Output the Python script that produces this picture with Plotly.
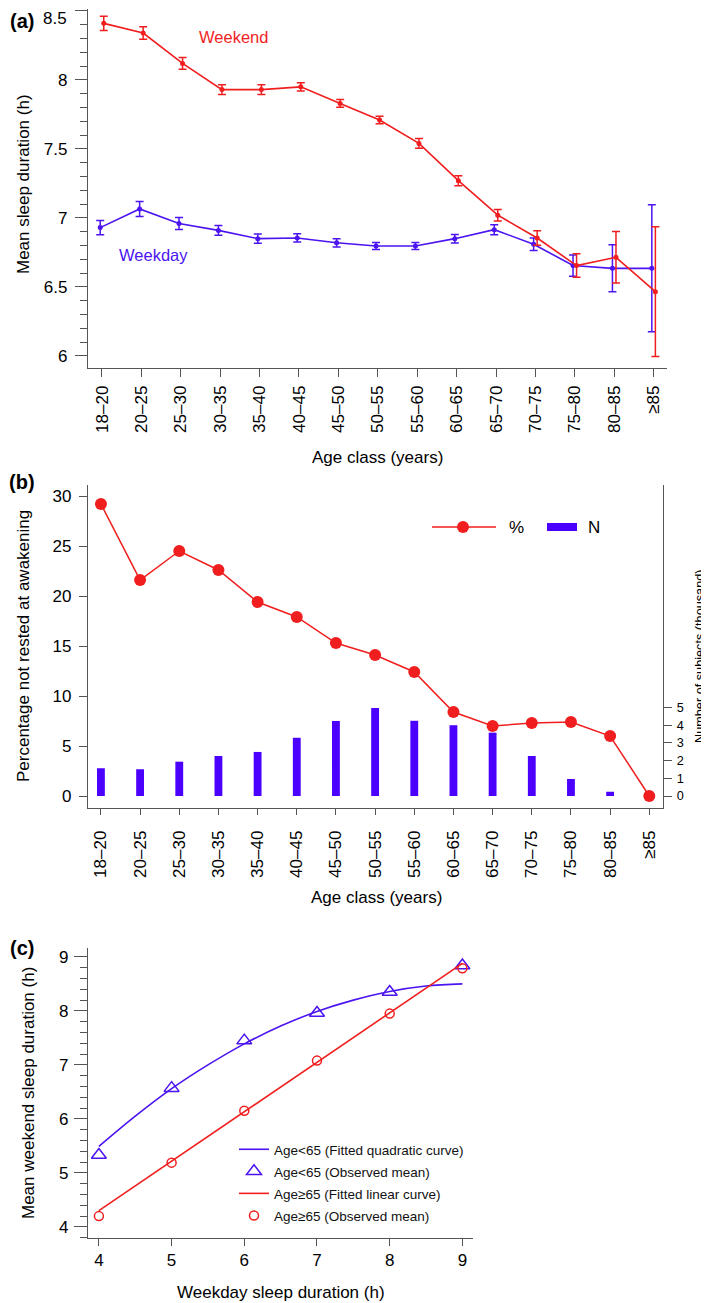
import plotly.graph_objects as go

# ── Data ────────────────────────────────────────────────────────────────────
AGE = ["18–20", "20–25", "25–30", "30–35", "35–40", "40–45", "45–50", "50–55",
       "55–60", "60–65", "65–70", "70–75", "75–80", "80–85", "≥85"]

weekend     = [8.41, 8.34, 8.12, 7.93, 7.93, 7.95, 7.83, 7.71, 7.54, 7.27, 7.02, 6.855, 6.655, 6.715, 6.466]
weekend_err = [0.052, 0.046, 0.042, 0.036, 0.036, 0.03, 0.028, 0.027, 0.035, 0.036, 0.042, 0.053, 0.085, 0.186, 0.47]
weekday     = [6.93, 7.065, 6.96, 6.91, 6.85, 6.855, 6.82, 6.797, 6.797, 6.85, 6.915, 6.81, 6.655, 6.635, 6.635]
weekday_err = [0.052, 0.054, 0.043, 0.036, 0.034, 0.03, 0.03, 0.026, 0.026, 0.031, 0.036, 0.045, 0.077, 0.17, 0.46]

pct_not_rested = [29.2, 21.6, 24.5, 22.6, 19.4, 17.9, 15.3, 14.1, 12.4, 8.4, 7.0, 7.3, 7.4, 6.0, 0.0]
n_thousand     = [1.57, 1.51, 1.94, 2.26, 2.49, 3.29, 4.24, 4.97, 4.25, 4.0, 3.58, 2.26, 0.96, 0.24, 0.03]

wd_hours      = [4, 5, 6, 7, 8, 9]
obs_under65   = [5.33, 6.57, 7.45, 7.96, 8.35, 8.84]
obs_over65    = [4.20, 5.19, 6.15, 7.08, 7.95, 8.79]
quad_x        = [4, 4.5, 5, 5.5, 6, 6.5, 7, 7.5, 8, 8.5, 9]
quad_y        = [5.49, 6.05, 6.56, 7.00, 7.39, 7.72, 7.99, 8.20, 8.36, 8.46, 8.50]
lin_x         = [4, 9]
lin_y         = [4.30, 8.88]

A_TICKS = [6, 6.5, 7, 7.5, 8, 8.5]

# ── Theme ───────────────────────────────────────────────────────────────────
W, H   = 709, 1303
OFF    = 8                      # default page body margin
FW, FH = W - OFF, H - OFF
RED    = "#F01E1E"
BLUE   = "#4B14F0"
BAR    = "#4B00FF"
AX_COL = "#555555"
FONT   = "Liberation Sans, Arial, Helvetica, sans-serif"


def px_x(x):
    # page pixel -> paper fraction
    return (x - OFF) / FW


def px_y(y):
    return 1 - (y - OFF) / FH


idx = list(range(len(AGE)))

_axis = dict(showline=True, linecolor=AX_COL, linewidth=1.3, ticks="outside",
             tickcolor=AX_COL, tickwidth=1.3, showgrid=False, zeroline=False,
             tickfont=dict(size=17, color="black"))

fig = go.Figure()

# ── (a) mean sleep duration by age ──────────────────────────────────────────
fig.add_trace(go.Scatter(
    x=[i - 0.045 for i in idx], y=weekday, mode="lines+markers",
    line=dict(color=BLUE, width=1.6), marker=dict(size=5, color=BLUE),
    error_y=dict(type="data", array=weekday_err, color=BLUE, thickness=1.5, width=4),
    xaxis="x", yaxis="y", showlegend=False,
))
fig.add_trace(go.Scatter(
    x=[i + 0.045 for i in idx], y=weekend, mode="lines+markers",
    line=dict(color=RED, width=1.6), marker=dict(size=5, color=RED),
    error_y=dict(type="data", array=weekend_err, color=RED, thickness=1.5, width=4),
    xaxis="x", yaxis="y", showlegend=False,
))

# ── (b) not rested at awakening + N ─────────────────────────────────────────
fig.add_trace(go.Bar(
    x=idx, y=n_thousand, width=0.2, marker=dict(color=BAR, line=dict(width=0)),
    xaxis="x2", yaxis="y2", showlegend=False,
))
fig.add_trace(go.Scatter(
    x=idx, y=pct_not_rested, mode="lines+markers",
    line=dict(color=RED, width=1.5), marker=dict(size=12, color=RED),
    xaxis="x2", yaxis="y3", showlegend=False,
))

# ── (c) weekend vs weekday sleep ────────────────────────────────────────────
fig.add_trace(go.Scatter(
    x=quad_x, y=quad_y, mode="lines", line=dict(color=BLUE, width=1.6, shape="spline"),
    name="Age<65 (Fitted quadratic curve)", xaxis="x3", yaxis="y4", legendgroup="a",
))
fig.add_trace(go.Scatter(
    x=wd_hours, y=obs_under65, mode="markers",
    marker=dict(symbol="triangle-up-open", size=13, color=BLUE, line=dict(width=1.5)),
    name="Age<65 (Observed mean)", xaxis="x3", yaxis="y4", legendgroup="b",
))
fig.add_trace(go.Scatter(
    x=lin_x, y=lin_y, mode="lines", line=dict(color=RED, width=1.6),
    name="Age≥65 (Fitted linear curve)", xaxis="x3", yaxis="y4", legendgroup="c",
))
fig.add_trace(go.Scatter(
    x=wd_hours, y=obs_over65, mode="markers",
    marker=dict(symbol="circle-open", size=9, color=RED, line=dict(width=1.5)),
    name="Age≥65 (Observed mean)", xaxis="x3", yaxis="y4", legendgroup="d",
))

# ── Layout ──────────────────────────────────────────────────────────────────
annotations = [
    dict(text="<b>(a)</b>", x=px_x(22), y=px_y(21), font=dict(size=20)),
    dict(text="<b>(b)</b>", x=px_x(22), y=px_y(482), font=dict(size=20)),
    dict(text="<b>(c)</b>", x=px_x(22), y=px_y(948), font=dict(size=20)),
    # top tick label of (a) sits at the page edge, so it is drawn as a note
    dict(text="8.5", x=px_x(69), y=px_y(19), xanchor="right", font=dict(size=17)),
    dict(text="Weekend", x=px_x(233), y=px_y(37), font=dict(size=16.5, color=RED)),
    dict(text="Weekday", x=px_x(153), y=px_y(255), font=dict(size=16.5, color=BLUE)),
    dict(text="Mean sleep duration (h)", x=px_x(23), y=px_y(184), textangle=-90, font=dict(size=17)),
    dict(text="Age class (years)", x=px_x(377), y=px_y(458), font=dict(size=17)),
    dict(text="Percentage not rested at awakening", x=px_x(24), y=px_y(646), textangle=-90, font=dict(size=17)),
    dict(text="Number of subjects (thousand)", x=px_x(700), y=px_y(657), textangle=-90, font=dict(size=12.7)),
    dict(text="Age class (years)", x=px_x(376), y=px_y(897), font=dict(size=17)),
    dict(text="Mean weekend sleep duration (h)", x=px_x(28), y=px_y(1093), textangle=-90, font=dict(size=17)),
    dict(text="Weekday sleep duration (h)", x=px_x(281), y=px_y(1292), font=dict(size=17)),
    # legend of panel (b)
    dict(text="%", x=px_x(507), y=px_y(527), xanchor="left", font=dict(size=17)),
    dict(text="N", x=px_x(586), y=px_y(527), xanchor="left", font=dict(size=17)),
]
for a in annotations:
    a.update(xref="paper", yref="paper", showarrow=False, yanchor="middle")
    a.setdefault("xanchor", "center")
    a["font"].setdefault("color", "black")

shapes = [
    dict(type="line", x0=px_x(432), x1=px_x(496), y0=px_y(527), y1=px_y(527),
         line=dict(color=RED, width=1.5)),
    dict(type="circle", xref="paper", yref="paper", xsizemode="pixel", ysizemode="pixel",
         xanchor=px_x(463), yanchor=px_y(527), x0=-6, x1=6, y0=-6, y1=6,
         fillcolor=RED, line=dict(width=0)),
    dict(type="rect", x0=px_x(547), x1=px_x(577), y0=px_y(531), y1=px_y(523),
         fillcolor=BAR, line=dict(width=0)),
]
for s in shapes:
    s.setdefault("xref", "paper")
    s.setdefault("yref", "paper")

fig.update_layout(
    width=FW, height=FH, autosize=False,
    margin=dict(l=0, r=0, t=0, b=0),
    paper_bgcolor="white", plot_bgcolor="white",
    font=dict(family=FONT, color="black"),
    annotations=annotations, shapes=shapes,
    xaxis=dict(_axis, domain=[px_x(88), px_x(667)], anchor="y", range=[-0.355, 14.34],
               tickvals=idx, ticktext=AGE, tickangle=-90, ticklen=8, ticklabelstandoff=2),
    yaxis=dict(_axis, domain=[px_y(367.7), px_y(9)], anchor="x", range=[5.915, 8.514],
               tickvals=A_TICKS, ticktext=[str(v).rstrip("0").rstrip(".") if v != 8.5 else ""
                                           for v in A_TICKS],
               ticklen=12, ticklabelstandoff=4,
               minor=dict(dtick=0.1, ticklen=7, ticks="outside", tickcolor=AX_COL, tickwidth=1.3)),
    xaxis2=dict(_axis, domain=[px_x(88), px_x(663)], anchor="y2", range=[-0.33, 14.35],
                tickvals=idx, ticktext=AGE, tickangle=-90, ticklen=6, ticklabelstandoff=9),
    yaxis2=dict(_axis, domain=[px_y(807.7), px_y(485)], anchor="x2", side="right",
                range=[-0.66, 17.57], tickvals=[0, 1, 2, 3, 4, 5], ticklen=8, ticklabelstandoff=2,
                tickfont=dict(size=12.7, color="black")),
    yaxis3=dict(_axis, overlaying="y2", anchor="x2", side="left",
                range=[-1.17, 31.1], dtick=5, ticklen=8, ticklabelstandoff=4),
    xaxis3=dict(_axis, domain=[px_x(88), px_x(473)], anchor="y4", range=[3.85, 9.146],
                dtick=1, ticklen=7),
    yaxis4=dict(_axis, domain=[px_y(1237.7), px_y(948)], anchor="x3", range=[3.8, 9.165],
                dtick=1, ticklen=13, ticklabelstandoff=2,
                minor=dict(dtick=0.2, ticklen=7, ticks="outside", tickcolor=AX_COL, tickwidth=1.3)),
    legend=dict(x=px_x(234), y=px_y(1134), xanchor="left", yanchor="top",
                bgcolor="rgba(0,0,0,0)", font=dict(size=13.5, color="#111"),
                tracegroupgap=1.5, itemwidth=30),
)

fig.write_html("out.html")
